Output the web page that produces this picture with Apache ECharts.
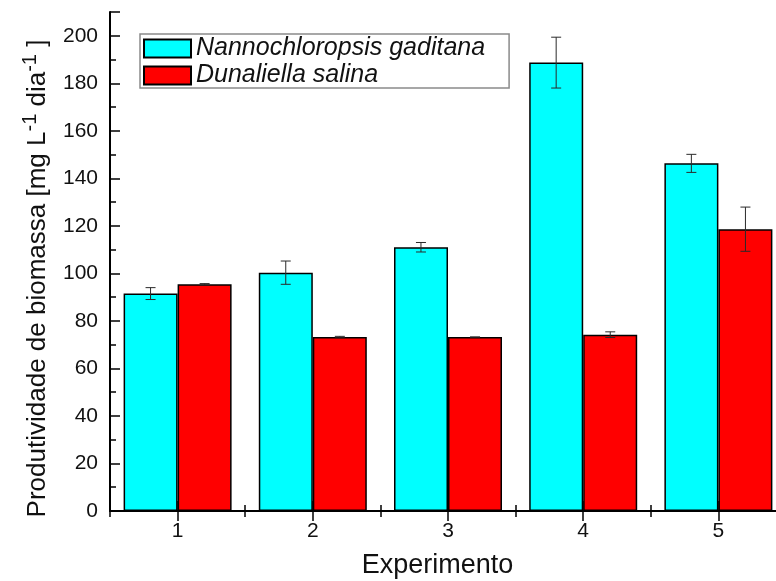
<!DOCTYPE html>
<html>
<head>
<meta charset="utf-8">
<script src="https://cdn.jsdelivr.net/npm/echarts@6/dist/echarts.min.js"></script>
<style>
  html, body { margin: 0; padding: 0; background: #ffffff; }
  #chart { width: 776px; height: 581px; }
</style>
</head>
<body>
<div id="chart"></div>
<script>
// Experiments on the category axis
const categories = ['1', '2', '3', '4', '5'];

// Biomass productivity (mg L-1 dia-1) and standard deviations
const nannoName = 'Nannochloropsis gaditana';
const nannoValues = [91.5, 100.3, 111.0, 188.7, 146.3];
const nannoErrors = [2.5, 4.9, 2.0, 10.7, 3.8];

const dunaName = 'Dunaliella salina';
const dunaValues = [95.4, 73.2, 73.2, 74.2, 118.6];
const dunaErrors = [0.3, 0.3, 0.0, 1.2, 9.3];

// Value axis range and tick steps
const yMin = 0;
const yMax = 210;
const yMajorStep = 20;
const yMinorStep = 10;

const FONT = '"Liberation Sans", Arial, sans-serif';
const INK = '#111111';

const chart = echarts.init(document.getElementById('chart'), null, { renderer: 'canvas' });

function errorBars(name, values, errors, side) {
  return {
    type: 'custom',
    name: name,
    xAxisIndex: 0,
    yAxisIndex: 0,
    z: 5,
    silent: true,
    data: values.map((v, i) => [i, v - errors[i], v + errors[i]]),
    renderItem: function (params, api) {
      const i = api.value(0);
      const band = api.size([1, 0])[0];
      const shift = side * band * 0.2;
      const lo = api.coord([i, api.value(1)]);
      const hi = api.coord([i, api.value(2)]);
      const x = lo[0] + shift;
      const cap = 5;
      const st = { stroke: '#2a2a2a', lineWidth: 1 };
      return {
        type: 'group',
        children: [
          { type: 'line', shape: { x1: x, y1: hi[1], x2: x, y2: lo[1] }, style: st },
          { type: 'line', shape: { x1: x - cap, y1: hi[1], x2: x + cap, y2: hi[1] }, style: st },
          { type: 'line', shape: { x1: x - cap, y1: lo[1], x2: x + cap, y2: lo[1] }, style: st }
        ]
      };
    }
  };
}

const axisLineStyle = { show: true, lineStyle: { color: '#000', width: 2 } };
const tickMajor = { show: true, inside: true, length: 10, lineStyle: { color: '#000', width: 1.5 } };
const tickMinor = { show: true, inside: true, length: 6, lineStyle: { color: '#000', width: 1.5 } };

function catAxis(position, centered, major, withLine, withLabels) {
  return {
    type: 'category',
    position: position,
    data: categories,
    boundaryGap: true,
    axisLine: withLine ? axisLineStyle : { show: false },
    axisTick: Object.assign({}, major ? tickMajor : tickMinor, { alignWithLabel: centered, interval: 0 }),
    axisLabel: withLabels
      ? { show: true, margin: 10, fontSize: 21, fontFamily: FONT, color: INK }
      : { show: false },
    splitLine: { show: false }
  };
}

function valAxis(position, step, major, withLine, withLabels) {
  return {
    type: 'value',
    position: position,
    min: yMin,
    max: yMax,
    interval: step,
    axisLine: withLine ? axisLineStyle : { show: false },
    axisTick: major ? tickMajor : tickMinor,
    axisLabel: withLabels
      ? {
          show: true, margin: 12, fontSize: 21, fontFamily: FONT, color: INK,
          formatter: v => (v % yMajorStep === 0 ? String(v) : '')
        }
      : { show: false },
    splitLine: { show: false }
  };
}

const xMain = catAxis('bottom', true, true, true, true);
xMain.name = 'Experimento';
xMain.nameLocation = 'middle';
xMain.nameGap = 41;
xMain.nameTextStyle = { fontSize: 27, fontFamily: FONT, color: INK, padding: [0, 21, 0, 0] };

const yMain = valAxis('left', yMajorStep, true, true, true);
yMain.name = 'Produtividade de biomassa [mg L{sup|-1} dia{sup|-1} ]';
yMain.nameLocation = 'middle';
yMain.nameGap = 54;
yMain.nameTextStyle = {
  fontSize: 26, fontFamily: FONT, color: INK,
  padding: [0, 34, 0, 0],
  rich: {
    sup: { fontSize: 20, fontFamily: FONT, color: INK, padding: [0, 0, 16, 0] }
  }
};

const option = {
  animation: false,
  backgroundColor: '#ffffff',
  grid: { left: 110, right: -10, top: 12, bottom: 70, outerBoundsMode: 'none' },
  legend: {
    data: [nannoName, dunaName],
    orient: 'vertical',
    left: 140,
    top: 34,
    padding: [2, 24, 0, 3],
    itemGap: 2,
    itemWidth: 47,
    itemHeight: 18,
    icon: 'rect',
    borderColor: '#8a8a8a',
    borderWidth: 1.5,
    backgroundColor: '#ffffff',
    textStyle: { fontSize: 25, fontStyle: 'italic', fontFamily: FONT, color: INK, lineHeight: 24 },
    selectedMode: false
  },
  xAxis: [
    xMain,
    catAxis('bottom', false, false, false, false),
    catAxis('top', true, true, true, false),
    catAxis('top', false, false, false, false)
  ],
  yAxis: [
    yMain,
    valAxis('left', yMinorStep, false, false, false),
    valAxis('right', yMajorStep, true, true, false),
    valAxis('right', yMinorStep, false, false, false)
  ],
  series: [
    {
      name: nannoName,
      type: 'bar',
      xAxisIndex: 0,
      yAxisIndex: 0,
      data: nannoValues,
      barWidth: 54,
      barGap: '0%',
      itemStyle: { color: '#00FFFF', borderColor: '#000', borderWidth: 1.5 }
    },
    {
      name: dunaName,
      type: 'bar',
      xAxisIndex: 0,
      yAxisIndex: 0,
      data: dunaValues,
      barWidth: 54,
      barGap: '0%',
      itemStyle: { color: '#FF0000', borderColor: '#000', borderWidth: 1.5 }
    },
    errorBars('desvio N. gaditana', nannoValues, nannoErrors, -1),
    errorBars('desvio D. salina', dunaValues, dunaErrors, 1)
  ]
};

chart.setOption(option);
</script>
</body>
</html>
